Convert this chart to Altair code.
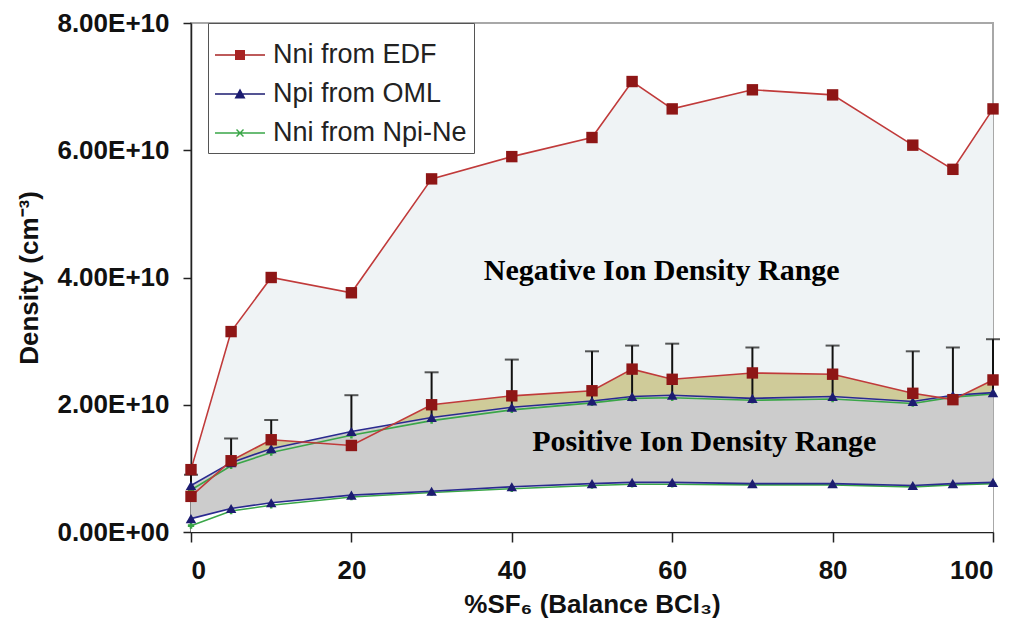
import altair as alt
import pandas as pd

# ---- data (densities in units of 1e10 cm^-3) ----
x_pct = [0, 5, 10, 20, 30, 40, 50, 55, 60, 70, 80, 90, 95, 100]
nni_edf_high = [0.98, 3.15, 4.00, 3.76, 5.55, 5.90, 6.20, 7.08, 6.65, 6.95, 6.87, 6.08, 5.70, 6.65]
nni_edf_low = [0.56, 1.12, 1.45, 1.36, 2.00, 2.14, 2.22, 2.56, 2.40, 2.50, 2.48, 2.18, 2.08, 2.39]
err_top = [0.90, 1.47, 1.76, 2.15, 2.51, 2.71, 2.84, 2.93, 2.96, 2.90, 2.93, 2.84, 2.90, 3.03]
err_bottom = [0.56, 1.12, 1.45, 1.58, 1.80, 1.96, 2.06, 2.13, 2.15, 2.10, 2.13, 2.05, 2.08, 2.19]
npi_oml_high = [0.73, 1.09, 1.31, 1.58, 1.80, 1.96, 2.06, 2.13, 2.15, 2.10, 2.13, 2.05, 2.15, 2.19]
npi_oml_low = [0.21, 0.37, 0.46, 0.58, 0.64, 0.71, 0.76, 0.78, 0.78, 0.76, 0.76, 0.73, 0.76, 0.78]
nni_npine_high = [0.66, 1.04, 1.25, 1.52, 1.75, 1.92, 2.03, 2.10, 2.11, 2.07, 2.09, 2.02, 2.12, 2.17]
nni_npine_low = [0.10, 0.33, 0.42, 0.55, 0.62, 0.68, 0.73, 0.75, 0.75, 0.74, 0.74, 0.71, 0.74, 0.76]

series_names = ["Nni from EDF", "Npi from OML", "Nni from Npi-Ne"]
x_ticks = [0, 20, 40, 60, 80, 100]
y_ticks = [0, 2e10, 4e10, 6e10, 8e10]

ann_text = ["Negative Ion Density Range", "Positive Ion Density Range"]
ann_x = [58.7, 64.0]
ann_y = [4.1, 1.42]

E = 1e10
df = pd.DataFrame({
    "x": x_pct,
    "edf_hi": [v * E for v in nni_edf_high],
    "edf_lo": [v * E for v in nni_edf_low],
    "err_top": [v * E for v in err_top],
    "err_bot": [v * E for v in err_bottom],
    "oml_hi": [v * E for v in npi_oml_high],
    "oml_lo": [v * E for v in npi_oml_low],
    "npne_hi": [v * E for v in nni_npine_high],
    "npne_lo": [v * E for v in nni_npine_low],
})

RED_LINE = "#c03a3a"
RED_MARK = "#8e1616"
BLUE_LINE = "#2a2a90"
BLUE_MARK = "#1c1c70"
GREEN_LINE = "#3aa648"

FONT = "Liberation Sans"
YTITLE = "Density (cm\u207b\u00b3)"
XTITLE = "%SF\u2086 (Balance BCl\u2083)"

xscale = alt.Scale(domain=[0, 100], nice=False)
yscale = alt.Scale(domain=[0, 8e10], nice=False)

xaxis = alt.Axis(values=x_ticks, tickSize=10, labelPadding=15, titlePadding=8,
                 labelFontSize=26, titleFontSize=26, labelFont=FONT, titleFont=FONT,
                 labelFontWeight="bold", titleFontWeight="bold", grid=False,
                 labelColor="#111", titleColor="#111")
yaxis = alt.Axis(values=y_ticks, tickSize=8, labelPadding=14, titlePadding=14,
                 labelFontSize=26, titleFontSize=26, labelFont=FONT, titleFont=FONT,
                 labelFontWeight="bold", titleFontWeight="bold", grid=False,
                 labelColor="#111", titleColor="#111",
                 labelExpr="datum.value == 0 ? '0.00E+00' : format(datum.value / 1e10, '.2f') + 'E+10'")


def X():
    return alt.X("x:Q", scale=xscale, axis=xaxis, title=XTITLE)


def Y(field):
    return alt.Y(f"{field}:Q", scale=yscale, axis=yaxis, title=YTITLE)


base = alt.Chart(df)

area_light = base.mark_area(color="#eff3f5").encode(x=X(), y=Y("edf_hi"))
area_white = base.mark_area(color="#ffffff").encode(x=X(), y=Y("oml_lo"))
area_olive = base.mark_area(color="#cfcb99").encode(x=X(), y=Y("edf_lo"), y2=alt.Y2("oml_hi:Q"))
area_gray = base.mark_area(color="#cccccc").encode(x=X(), y=Y("oml_hi"), y2=alt.Y2("oml_lo:Q"))


def line(field, color, width=1.6):
    return base.mark_line(color=color, strokeWidth=width).encode(x=X(), y=Y(field))


lines = [
    line("npne_hi", GREEN_LINE), line("npne_lo", GREEN_LINE),
    line("oml_hi", BLUE_LINE), line("oml_lo", BLUE_LINE),
    line("edf_hi", RED_LINE), line("edf_lo", RED_LINE),
]

err_rule = base.mark_rule(color="#111111", strokeWidth=2).encode(
    x=X(), y=Y("err_bot"), y2=alt.Y2("err_top:Q"))
err_cap = base.mark_tick(color="#111111", orient="horizontal", size=14, thickness=2).encode(
    x=X(), y=Y("err_top"))


def pts(field, shape, color, size):
    return base.mark_point(shape=shape, filled=True, size=size, color=color, opacity=1).encode(
        x=X(), y=Y(field))


points = [
    pts("npne_hi", "cross", GREEN_LINE, 40), pts("npne_lo", "cross", GREEN_LINE, 40),
    pts("oml_hi", "triangle-up", BLUE_MARK, 110), pts("oml_lo", "triangle-up", BLUE_MARK, 110),
    pts("edf_hi", "square", RED_MARK, 130), pts("edf_lo", "square", RED_MARK, 130),
]

# annotations
ann_df = pd.DataFrame({"text": ann_text, "x": ann_x, "y": [v * E for v in ann_y]})
ann = alt.Chart(ann_df).mark_text(font="Liberation Serif", fontSize=30, fontWeight="bold",
                                  color="#000000").encode(
    x=alt.X("x:Q", scale=xscale, axis=xaxis, title=XTITLE),
    y=alt.Y("y:Q", scale=yscale, axis=yaxis, title=YTITLE),
    text="text:N")

# legend-only layer (no rows drawn)
leg_paths = [
    "M-1,-0.03H1V0.03H-1Z M-0.2,-0.2H0.2V0.2H-0.2Z",
    "M-1,-0.03H1V0.03H-1Z M0,-0.22L0.22,0.18H-0.22Z",
    "M-1,-0.03H1V0.03H-1Z M-0.16,-0.12L-0.12,-0.16L0.16,0.12L0.12,0.16Z M0.12,-0.16L0.16,-0.12L-0.12,0.16L-0.16,0.12Z",
]
leg_colors = ["#a82424", BLUE_MARK, GREEN_LINE]
leg_df = pd.DataFrame({"series": series_names, "x": [-10] * 3, "y": [0] * 3})


def leg():
    return alt.Legend(orient="none", legendX=17, legendY=0, padding=7,
                      strokeColor="#555555", fillColor="#ffffff",
                      symbolSize=2500, symbolStrokeWidth=0, symbolOpacity=1,
                      labelFontSize=27, labelFont=FONT, labelColor="#222222",
                      labelOffset=8, rowPadding=1, labelLimit=400)


legend_layer = alt.Chart(leg_df).transform_filter("datum.x >= 0").mark_point(filled=True).encode(
    x=alt.X("x:Q", scale=xscale, axis=xaxis, title=XTITLE),
    y=alt.Y("y:Q", scale=yscale, axis=yaxis, title=YTITLE),
    color=alt.Color("series:N", scale=alt.Scale(domain=series_names, range=leg_colors), title=None,
                    legend=leg()),
    shape=alt.Shape("series:N", scale=alt.Scale(domain=series_names, range=leg_paths), title=None,
                    legend=leg()),
)

chart = alt.layer(
    area_light, area_white, area_olive, area_gray,
    *lines, err_rule, err_cap, *points, ann, legend_layer
).properties(
    width=802, height=509,
    autosize=alt.AutoSizeParams(type="none"),
    padding={"left": 183, "top": 15, "right": 20, "bottom": 90},
).configure_view(
    stroke="#a8a8a8", strokeWidth=2
).configure_axis(
    domainColor="#222222", domainWidth=1.5, tickColor="#222222", tickWidth=1.5
)

chart.save("out.html", embed_options={"renderer": "svg", "actions": False})
